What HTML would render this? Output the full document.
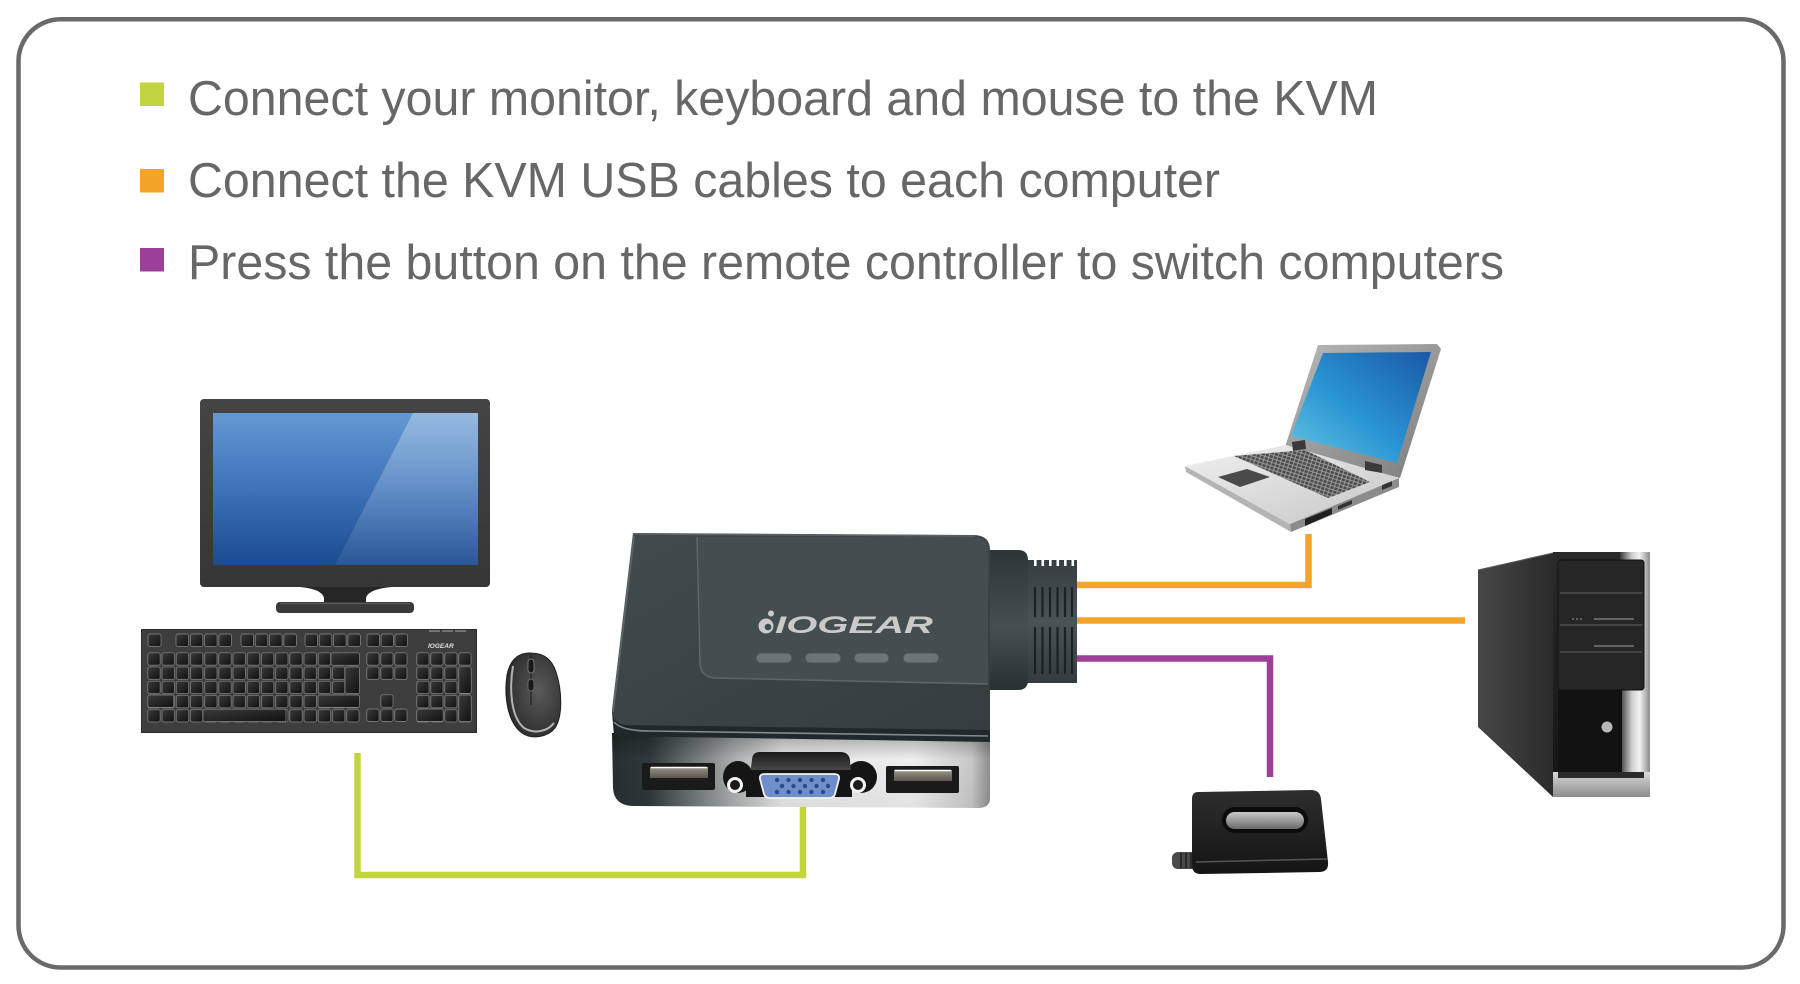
<!DOCTYPE html>
<html><head><meta charset="utf-8">
<style>
html,body{margin:0;padding:0;background:#fff;}
svg{display:block;}
</style></head>
<body>
<svg width="1800" height="984" viewBox="0 0 1800 984" xmlns="http://www.w3.org/2000/svg">
<defs>
  <linearGradient id="scr" x1="0" y1="0" x2="0" y2="1">
    <stop offset="0" stop-color="#6499d2"/><stop offset="0.5" stop-color="#3c73b9"/><stop offset="1" stop-color="#1c4b8f"/>
  </linearGradient>
  <linearGradient id="scrHi" x1="0" y1="0" x2="0" y2="1">
    <stop offset="0" stop-color="#fff" stop-opacity="0.32"/><stop offset="1" stop-color="#fff" stop-opacity="0.06"/>
  </linearGradient>
  <linearGradient id="bez" x1="0" y1="0" x2="0" y2="1">
    <stop offset="0" stop-color="#444"/><stop offset="1" stop-color="#363636"/>
  </linearGradient>
  <linearGradient id="kvmTop" x1="0" y1="0" x2="1" y2="1">
    <stop offset="0" stop-color="#414a4c"/><stop offset="1" stop-color="#353d3f"/>
  </linearGradient>
  <linearGradient id="front" x1="0" y1="0" x2="1" y2="0">
    <stop offset="0" stop-color="#263030"/><stop offset="0.1" stop-color="#2f3939"/><stop offset="0.32" stop-color="#a9adad"/><stop offset="0.45" stop-color="#e6e6e6"/><stop offset="0.8" stop-color="#eeeeee"/><stop offset="0.95" stop-color="#c8c8c8"/><stop offset="1" stop-color="#8e8e8e"/>
  </linearGradient>
  <linearGradient id="frontV" x1="0" y1="0" x2="0" y2="1">
    <stop offset="0" stop-color="#000" stop-opacity="0.3"/><stop offset="0.35" stop-color="#000" stop-opacity="0"/><stop offset="1" stop-color="#000" stop-opacity="0.05"/>
  </linearGradient>
  <linearGradient id="usbIn" x1="0" y1="0" x2="0" y2="1">
    <stop offset="0" stop-color="#9a958a"/><stop offset="1" stop-color="#5a564f"/>
  </linearGradient>
  <linearGradient id="hood" x1="0" y1="0" x2="0" y2="1">
    <stop offset="0" stop-color="#1a1a1a"/><stop offset="0.5" stop-color="#4a4a4a"/><stop offset="1" stop-color="#1a1a1a"/>
  </linearGradient>
  <linearGradient id="lid" x1="0" y1="0" x2="1" y2="1">
    <stop offset="0" stop-color="#b8b8b8"/><stop offset="1" stop-color="#7c7c7c"/>
  </linearGradient>
  <linearGradient id="lscr" x1="0" y1="1" x2="1" y2="0">
    <stop offset="0" stop-color="#66c6e2"/><stop offset="0.45" stop-color="#2a95d4"/><stop offset="1" stop-color="#1a58a5"/>
  </linearGradient>
  <linearGradient id="deck" x1="0" y1="0" x2="1" y2="1">
    <stop offset="0" stop-color="#f0f0f0"/><stop offset="1" stop-color="#c6c6c6"/>
  </linearGradient>
  <linearGradient id="tside" x1="0" y1="0" x2="1" y2="0">
    <stop offset="0" stop-color="#474747"/><stop offset="1" stop-color="#2b2b2b"/>
  </linearGradient>
  <linearGradient id="tfront" x1="0" y1="0" x2="0" y2="1">
    <stop offset="0" stop-color="#2a2a2a"/><stop offset="1" stop-color="#141414"/>
  </linearGradient>
  <linearGradient id="chrome" x1="0" y1="0" x2="1" y2="0">
    <stop offset="0" stop-color="#3a3a3a"/><stop offset="0.4" stop-color="#cfcfcf"/><stop offset="0.65" stop-color="#f2f2f2"/><stop offset="1" stop-color="#8a8a8a"/>
  </linearGradient>
  <linearGradient id="silverV" x1="0" y1="0" x2="0" y2="1">
    <stop offset="0" stop-color="#d8d8d8"/><stop offset="1" stop-color="#8c8c8c"/>
  </linearGradient>
  <linearGradient id="remote" x1="0" y1="0" x2="0" y2="1">
    <stop offset="0" stop-color="#2e2e2e"/><stop offset="1" stop-color="#141414"/>
  </linearGradient>
  <linearGradient id="rwin" x1="0" y1="0" x2="0" y2="1">
    <stop offset="0" stop-color="#c8c8c8"/><stop offset="1" stop-color="#6a6a6a"/>
  </linearGradient>
  <radialGradient id="mouse" cx="0.6" cy="0.45" r="0.7">
    <stop offset="0" stop-color="#5a5a5a"/><stop offset="1" stop-color="#262626"/>
  </radialGradient>
  <linearGradient id="conn" x1="0" y1="0" x2="0" y2="1">
    <stop offset="0" stop-color="#2c3637"/><stop offset="0.55" stop-color="#465052"/><stop offset="1" stop-color="#283132"/>
  </linearGradient>
  <linearGradient id="rib" x1="0" y1="0" x2="0" y2="1">
    <stop offset="0" stop-color="#353e40"/><stop offset="0.5" stop-color="#4a5355"/><stop offset="1" stop-color="#333b3d"/>
  </linearGradient>
  <linearGradient id="key" x1="0" y1="0" x2="1" y2="1">
    <stop offset="0" stop-color="#3a3a3a"/><stop offset="1" stop-color="#111"/>
  </linearGradient>
  <pattern id="kA" x="147" y="652" width="14.2" height="14.2" patternUnits="userSpaceOnUse">
    <rect x="0.8" y="0.8" width="12.4" height="12.4" rx="2" fill="url(#key)" stroke="#8a8a8a" stroke-width="0.7"/>
  </pattern>
  <pattern id="kB" x="366" y="652" width="14" height="14.2" patternUnits="userSpaceOnUse">
    <rect x="0.8" y="0.8" width="12.2" height="12.4" rx="2" fill="url(#key)" stroke="#8a8a8a" stroke-width="0.7"/>
  </pattern>
  <pattern id="kC" x="416" y="652" width="14" height="14.2" patternUnits="userSpaceOnUse">
    <rect x="0.8" y="0.8" width="12.2" height="12.4" rx="2" fill="url(#key)" stroke="#8a8a8a" stroke-width="0.7"/>
  </pattern>
  <pattern id="lk" width="4.2" height="3.6" patternUnits="userSpaceOnUse" patternTransform="rotate(18)">
    <rect width="4.2" height="3.6" fill="#9a9a9a"/>
    <rect x="0.4" y="0.4" width="3.2" height="2.6" fill="#4a4a4a"/>
  </pattern>
</defs>

<rect width="1800" height="984" fill="#fff"/>
<rect x="18.5" y="19.3" width="1765" height="948.2" rx="42" fill="none" stroke="#6a6a6a" stroke-width="4.5"/>

<!-- bullets -->
<rect x="140" y="82.5" width="24" height="23.5" fill="#c2d540"/>
<rect x="140" y="169" width="24" height="23.5" fill="#f5a42a"/>
<rect x="140" y="248" width="24" height="23.5" fill="#9b3f98"/>

<g font-family="Liberation Sans, Arial, Helvetica, sans-serif" font-size="49" fill="#676767">
  <text x="188" y="115" textLength="1190" lengthAdjust="spacingAndGlyphs">Connect your monitor, keyboard and mouse to the KVM</text>
  <text x="188" y="197" textLength="1032" lengthAdjust="spacingAndGlyphs">Connect the KVM USB cables to each computer</text>
  <text x="188" y="279" textLength="1316" lengthAdjust="spacingAndGlyphs">Press the button on the remote controller to switch computers</text>
</g>

<!-- cables -->
<g fill="none" stroke-width="6.5" stroke-linejoin="miter">
  <path d="M357.5,753 V875 H803 V805" stroke="#c2d540"/>
  <path d="M1076,585 H1308.5 V534" stroke="#f5a42a"/>
  <path d="M1076,620.5 H1465" stroke="#f5a42a"/>
  <path d="M1076,658.5 H1270 V777" stroke="#9b3f98"/>
</g>

<!-- MONITOR -->
<rect x="200" y="399" width="290" height="188" rx="4" fill="url(#bez)"/>
<rect x="213" y="413" width="265" height="152" fill="url(#scr)"/>
<polygon points="413,413 478,413 478,565 335,565" fill="url(#scrHi)"/>
<path d="M300,587 Q322,589 324,598 L324,604 L366,604 L366,598 Q368,589 392,587 Z" fill="#262626"/>
<rect x="276" y="602" width="138" height="11" rx="4" fill="#3a3a3a"/>
<line x1="280" y1="603.5" x2="410" y2="603.5" stroke="#5c5c5c" stroke-width="1.2"/>

<!-- KEYBOARD -->
<rect x="141" y="629" width="336" height="104" fill="#3e3e3e"/>
<rect x="141.5" y="629.5" width="335" height="103" fill="none" stroke="#2a2a2a" stroke-width="1"/>
<g fill="url(#key)" stroke="#8a8a8a" stroke-width="0.7">
  <rect x="148" y="634" width="13" height="12.5" rx="2"/>
  <rect x="176" y="634" width="12.5" height="12.5" rx="2"/><rect x="190.3" y="634" width="12.5" height="12.5" rx="2"/><rect x="204.6" y="634" width="12.5" height="12.5" rx="2"/><rect x="218.9" y="634" width="12.5" height="12.5" rx="2"/>
  <rect x="241" y="634" width="12.5" height="12.5" rx="2"/><rect x="255.3" y="634" width="12.5" height="12.5" rx="2"/><rect x="269.6" y="634" width="12.5" height="12.5" rx="2"/><rect x="283.9" y="634" width="12.5" height="12.5" rx="2"/>
  <rect x="305" y="634" width="12.5" height="12.5" rx="2"/><rect x="319.3" y="634" width="12.5" height="12.5" rx="2"/><rect x="333.6" y="634" width="12.5" height="12.5" rx="2"/><rect x="347.9" y="634" width="12.5" height="12.5" rx="2"/>
  <rect x="367" y="634" width="12.5" height="12.5" rx="2"/><rect x="381" y="634" width="12.5" height="12.5" rx="2"/><rect x="395" y="634" width="12.5" height="12.5" rx="2"/>
</g>
<rect x="147" y="652" width="213" height="71" fill="url(#kA)"/>
<rect x="366" y="652" width="42" height="28.4" fill="url(#kB)"/>
<rect x="416" y="652" width="56" height="71" fill="url(#kC)"/>
<g fill="url(#key)" stroke="#8a8a8a" stroke-width="0.7">
  <rect x="380.8" y="694.8" width="12.2" height="12.4" rx="2"/>
  <rect x="366.8" y="709" width="12.2" height="12.4" rx="2"/><rect x="380.8" y="709" width="12.2" height="12.4" rx="2"/><rect x="394.8" y="709" width="12.2" height="12.4" rx="2"/>
  <rect x="203" y="709.2" width="83" height="12.4" rx="2"/>
  <rect x="147.8" y="695" width="26" height="12.4" rx="2"/>
  <rect x="318" y="695" width="41.5" height="12.4" rx="2"/>
  <rect x="331" y="652.8" width="28.5" height="12.4" rx="2"/>
  <rect x="345" y="667" width="14.5" height="26.6" rx="2"/>
  <rect x="458.8" y="666.8" width="12.4" height="26.6" rx="2"/>
  <rect x="458.8" y="695" width="12.4" height="26.6" rx="2"/>
  <rect x="416.8" y="709" width="26.4" height="12.4" rx="2"/>
</g>
<g stroke="#9a9a9a" stroke-width="1.2">
  <line x1="429" y1="631" x2="440" y2="631"/><line x1="442" y1="631" x2="453" y2="631"/><line x1="455" y1="631" x2="466" y2="631"/>
</g>
<text x="428" y="648" font-family="Liberation Sans, Arial, sans-serif" font-size="6.5" font-weight="bold" font-style="italic" fill="#e0e0e0">IOGEAR</text>

<!-- MOUSE -->
<path d="M530,653 C518,653 510,660 507,675 C504,695 507,722 522,733 C532,740 548,737 555,728 C563,716 562,690 556,672 C552,660 545,653 530,653 Z" fill="url(#mouse)" stroke="#1e1e1e" stroke-width="1"/>
<path d="M513,666 C509,690 511,717 524,728 C534,734 547,732 554,723" fill="none" stroke="#b4b4b4" stroke-width="2"/>
<line x1="531" y1="655" x2="531" y2="705" stroke="#1a1a1a" stroke-width="1"/>
<rect x="528" y="659" width="6" height="14" rx="3" fill="#1a1a1a" stroke="#888" stroke-width="0.8"/>
<rect x="528" y="679" width="6" height="12" rx="3" fill="#1a1a1a" stroke="#777" stroke-width="0.8"/>

<!-- KVM SWITCH -->
<!-- ribbed strain relief -->
<path d="M1026,560 L1077,560 L1077,683 L1026,683 Z" fill="url(#rib)"/>
<g fill="#fff">
  <rect x="1034" y="559" width="2.6" height="7"/><rect x="1041.5" y="559" width="2.6" height="7"/><rect x="1049" y="559" width="2.6" height="7"/><rect x="1056.5" y="559" width="2.6" height="7"/><rect x="1064" y="559" width="2.6" height="7"/><rect x="1071.5" y="559" width="2.6" height="7"/>
</g>
<g stroke="#1a2224" stroke-width="2.2" stroke-linecap="round">
  <path d="M1035,588 V616 M1042.5,588 V616 M1050,588 V616 M1057.5,588 V616 M1065,588 V616 M1072,588 V616"/>
  <path d="M1035,628 V673 M1042.5,628 V673 M1050,628 V673 M1057.5,628 V673 M1065,628 V673 M1072,628 V673"/>
</g>
<path d="M988,550 L1018,550 Q1028,550 1028,560 L1028,680 Q1028,690 1018,690 L988,690 Z" fill="url(#conn)"/>
<!-- body silhouette / front panel -->
<path d="M612,733 L990,738 L990,798 Q990,808 978,808 L632,806 Q614,805 613,788 Z" fill="url(#front)"/>
<path d="M612,733 L990,738 L990,798 Q990,808 978,808 L632,806 Q614,805 613,788 Z" fill="url(#frontV)"/>
<!-- dark lip -->
<path d="M612,712 L990,726 L990,742 L614,736 Z" fill="#20282a"/>
<!-- top face -->
<path d="M633,533 L975,535 Q990,536 990,550 L990,730 L626,725 Q612,723 612,710 Z" fill="url(#kvmTop)"/>
<path d="M614,722 Q622,731 650,731 L988,736" fill="none" stroke="#818a8c" stroke-width="1.6"/>
<path d="M633,534 L975,536" stroke="#5c6567" stroke-width="1.5"/>
<path d="M634,536 L613,712" stroke="#5a6466" stroke-width="2"/>
<!-- recessed panel -->
<path d="M697,537 L975,537 Q988,538 988,550 L988,684 L715,678 Q700,677 700,664 Z" fill="#444d4f"/>
<path d="M697,537 L700,664 Q701,677 715,678 L988,684" fill="none" stroke="#5d6668" stroke-width="1.5"/>
<!-- logo -->
<circle cx="766" cy="626" r="7.5" fill="#cacaca"/>
<circle cx="768" cy="627" r="3.3" fill="#414a4c"/>
<circle cx="771" cy="613.5" r="3" fill="#cacaca"/>
<text x="775" y="633" font-family="Liberation Sans, Arial, sans-serif" font-size="24" font-weight="bold" font-style="italic" fill="#cacaca" textLength="158" lengthAdjust="spacingAndGlyphs">IOGEAR</text>
<!-- buttons -->
<g fill="#6b7476" stroke="#4a5254" stroke-width="1">
  <rect x="756" y="653" width="36" height="10" rx="5"/>
  <rect x="805" y="653" width="36" height="10" rx="5"/>
  <rect x="854" y="653" width="35" height="10" rx="5"/>
  <rect x="903" y="653" width="36" height="10" rx="5"/>
</g>
<!-- USB ports -->
<rect x="642" y="763" width="73" height="27" rx="2" fill="#1a1a1a"/>
<rect x="650" y="767" width="58" height="11" fill="url(#usbIn)"/>
<line x1="651" y1="767.5" x2="707" y2="767.5" stroke="#fff" stroke-width="1.5"/>
<rect x="886" y="766" width="73" height="27" rx="2" fill="#1a1a1a"/>
<rect x="894" y="770" width="58" height="11" fill="url(#usbIn)"/>
<line x1="895" y1="770.5" x2="951" y2="770.5" stroke="#fff" stroke-width="1.5"/>
<!-- VGA -->
<ellipse cx="738" cy="777" rx="15" ry="16" fill="#151515"/>
<ellipse cx="861" cy="777" rx="16" ry="16" fill="#151515"/>
<path d="M752,760 Q752,752 760,752 L840,752 Q849,752 850,760 L852,790 L748,790 Z" fill="url(#hood)"/>
<path d="M746,770 L852,770 L852,797 L746,797 Z" fill="#151515"/>
<circle cx="735" cy="785" r="8" fill="#f2f2f2"/><circle cx="735" cy="785" r="5" fill="#1a1a1a"/>
<circle cx="858" cy="785" r="8" fill="#f2f2f2"/><circle cx="858" cy="785" r="5" fill="#1a1a1a"/>
<path d="M765,774 L834,774 Q840,774 839,779 L835,794 Q834,798 829,798 L770,798 Q765,798 764,794 L760,779 Q759,774 765,774 Z" fill="#6f8fc9" stroke="#f2f2f2" stroke-width="1.8"/>
<g fill="#2a4a8a">
  <circle cx="777" cy="780" r="2.2"/><circle cx="788.5" cy="780" r="2.2"/><circle cx="800" cy="780" r="2.2"/><circle cx="811.5" cy="780" r="2.2"/><circle cx="823" cy="780" r="2.2"/>
  <circle cx="782" cy="786" r="2.2"/><circle cx="793.5" cy="786" r="2.2"/><circle cx="805" cy="786" r="2.2"/><circle cx="816.5" cy="786" r="2.2"/><circle cx="828" cy="786" r="2.2"/>
  <circle cx="777" cy="792" r="2.2"/><circle cx="788.5" cy="792" r="2.2"/><circle cx="800" cy="792" r="2.2"/><circle cx="811.5" cy="792" r="2.2"/><circle cx="823" cy="792" r="2.2"/>
</g>

<!-- LAPTOP -->
<polygon points="1185,466 1290,524 1291,532 1186,472" fill="#b4b4b4"/>
<polygon points="1290,524 1399,478 1399,487 1291,532" fill="#8c8c8c"/>
<polygon points="1305,519 1332,508 1332,514 1305,526" fill="#202020"/>
<polygon points="1338,506 1352,500 1352,504 1338,510" fill="#333"/>
<polygon points="1382,485 1392,481 1392,486 1382,490" fill="#333"/>
<polygon points="1318,345 1437,344 1441,349 1400,478 1285,447" fill="url(#lid)"/>
<polygon points="1323,353 1431,352 1397,463 1291,436" fill="url(#lscr)"/>
<polygon points="1185,466 1286,445 1399,478 1290,524" fill="url(#deck)"/>
<polygon points="1234,456 1305,450 1370,482 1328,498" fill="url(#lk)"/>
<polygon points="1218,477 1247,469 1270,477 1240,487" fill="#4a4a4a"/>
<polygon points="1292,442 1305,440 1306,449 1293,451" fill="#3a3a3a"/>
<polygon points="1365,461 1382,465 1382,473 1365,470" fill="#3a3a3a"/>

<!-- TOWER -->
<polygon points="1478,570 1553,553 1553,797 1478,727" fill="url(#tside)"/>
<line x1="1478" y1="570" x2="1553" y2="553" stroke="#5a5a5a" stroke-width="1"/>
<rect x="1553" y="552" width="97" height="245" fill="url(#tfront)"/>
<rect x="1620" y="552" width="30" height="245" fill="url(#chrome)"/>
<rect x="1558" y="560" width="86" height="130" rx="3" fill="#262626" stroke="#111" stroke-width="1"/>
<g stroke="#4d4d4d" stroke-width="1.5">
  <line x1="1560" y1="593" x2="1642" y2="593"/>
  <line x1="1560" y1="625" x2="1642" y2="625"/>
  <line x1="1560" y1="652" x2="1642" y2="652"/>
</g>
<g stroke="#8a8a8a" stroke-width="1.3">
  <line x1="1594" y1="619" x2="1634" y2="619"/>
  <line x1="1594" y1="646" x2="1634" y2="646"/>
</g>
<g fill="#8a8a8a"><circle cx="1573" cy="619" r="0.9"/><circle cx="1577" cy="619" r="0.9"/><circle cx="1581" cy="619" r="0.9"/></g>
<rect x="1558" y="690" width="64" height="82" fill="#121212"/>
<circle cx="1607" cy="727" r="5.5" fill="#b8b8b8"/>
<rect x="1553" y="772" width="97" height="25" fill="url(#silverV)"/>
<rect x="1558" y="772" width="86" height="6" fill="#2a2a2a"/>

<!-- REMOTE -->
<rect x="1172" y="852" width="26" height="17" rx="6" fill="#4a4a4a"/>
<g stroke="#222" stroke-width="1.6"><line x1="1181" y1="853" x2="1181" y2="868"/><line x1="1186" y1="853" x2="1186" y2="868"/><line x1="1191" y1="853" x2="1191" y2="868"/></g>
<path d="M1198,792 L1311,790 Q1320,790 1321,799 L1328,862 Q1329,872 1319,872 L1201,874 Q1192,874 1192,865 L1192,799 Q1192,792 1198,792 Z" fill="url(#remote)"/>
<line x1="1196" y1="862" x2="1327" y2="859" stroke="#555" stroke-width="1.5"/>
<rect x="1222" y="807" width="86" height="26" rx="13" fill="#0b0b0b"/>
<rect x="1226" y="812" width="78" height="17" rx="8.5" fill="url(#rwin)"/>
</svg>
</body></html>
